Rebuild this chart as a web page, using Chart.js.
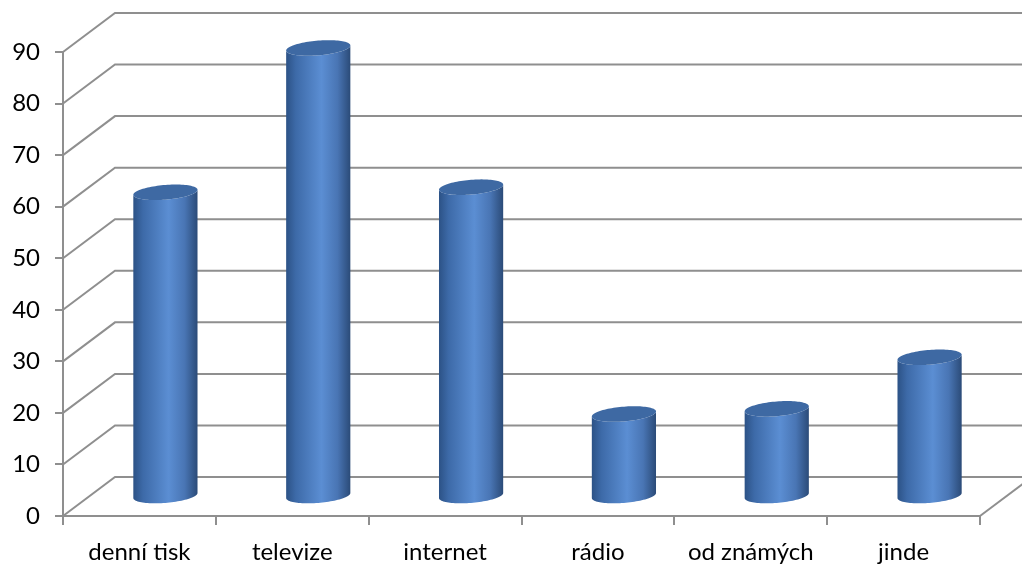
<!DOCTYPE html>
<html>
<head>
<meta charset="utf-8">
<script src="https://cdn.jsdelivr.net/npm/chart.js@4"></script>
<style>
  html, body { margin: 0; padding: 0; background: #fff; }
  #wrap { width: 1022px; height: 564px; position: relative; }
</style>
</head>
<body>
<div id="wrap"><canvas id="chart"></canvas></div>
<script>
const categories = ['denní tisk', 'televize', 'internet', 'rádio', 'od známých', 'jinde'];
const values = [59, 87, 60, 16, 17, 27];
const yTicks = [0, 10, 20, 30, 40, 50, 60, 70, 80, 90];

// oblique depth of the 3D box (front plane -> back wall)
const depth = { dx: 52, dy: -39 };
const gridColor = '#8f8f8f';

const floorAndWalls = {
    id: 'floorAndWalls',
    beforeDatasetsDraw(chart) {
        const ctx = chart.ctx;
        const area = chart.chartArea;
        const y = chart.scales.y;
        ctx.save();
        ctx.strokeStyle = gridColor;
        ctx.lineWidth = 2;
        yTicks.forEach(v => {
            const py = y.getPixelForValue(v);
            ctx.beginPath();
            ctx.moveTo(area.left, py);
            ctx.lineTo(area.left + depth.dx, py + depth.dy);
            ctx.lineTo(chart.width + 2, py + depth.dy);
            ctx.stroke();
        });
        // right edge of the floor
        ctx.beginPath();
        ctx.moveTo(area.right, area.bottom);
        ctx.lineTo(area.right + depth.dx, area.bottom + depth.dy);
        ctx.stroke();
        ctx.restore();
    }
};

function ellipsePoint(cx, cy, r, a, b, t) {
    return [cx + r * Math.cos(t) + a * Math.sin(t), cy + b * Math.sin(t)];
}

const cylinders = {
    id: 'cylinders',
    afterDatasetsDraw(chart) {
        const ctx = chart.ctx;
        const meta = chart.getDatasetMeta(0);
        const ox = depth.dx / 2, oy = depth.dy / 2;
        const a = depth.dx * 0.2, b = depth.dy * 0.2;
        meta.data.forEach(bar => {
            const cx = bar.x + ox;
            const topY = bar.y + oy;
            const botY = bar.base + oy;
            const half = bar.width / 2;
            const r = Math.sqrt(Math.max(half * half - a * a, 1));
            const tR = Math.atan2(a, r);
            const tL = tR + Math.PI;
            const steps = 48;

            // side of the cylinder
            ctx.save();
            ctx.beginPath();
            for (let i = 0; i <= steps; i++) {
                const t = tL + (Math.PI * i) / steps;
                const [px, py] = ellipsePoint(cx, topY, r, a, b, t);
                if (i === 0) ctx.moveTo(px, py); else ctx.lineTo(px, py);
            }
            for (let i = steps; i >= 0; i--) {
                const t = tL + (Math.PI * i) / steps;
                const [px, py] = ellipsePoint(cx, botY, r, a, b, t);
                ctx.lineTo(px, py);
            }
            ctx.closePath();
            const g = ctx.createLinearGradient(cx - half, 0, cx + half, 0);
            g.addColorStop(0, '#2c5286');
            g.addColorStop(0.15, '#3d6aa8');
            g.addColorStop(0.55, '#5b8ed3');
            g.addColorStop(0.8, '#4975b4');
            g.addColorStop(1, '#2b4b78');
            ctx.fillStyle = g;
            ctx.fill();

            // top cap
            ctx.beginPath();
            for (let i = 0; i <= steps * 2; i++) {
                const t = (Math.PI * i) / steps;
                const [px, py] = ellipsePoint(cx, topY, r, a, b, t);
                if (i === 0) ctx.moveTo(px, py); else ctx.lineTo(px, py);
            }
            ctx.closePath();
            ctx.fillStyle = '#3e69a3';
            ctx.fill();
            ctx.restore();
        });
    }
};

new Chart(document.getElementById('chart'), {
    type: 'bar',
    data: {
        labels: categories,
        datasets: [{
            data: values,
            backgroundColor: 'rgba(0,0,0,0)',
            borderWidth: 0,
            barPercentage: 0.7,
            categoryPercentage: 0.6
        }]
    },
    plugins: [floorAndWalls, cylinders],
    options: {
        responsive: true,
        maintainAspectRatio: false,
        animation: false,
        events: [],
        layout: { padding: { top: 52, right: 42, bottom: 0, left: 0 } },
        plugins: {
            legend: { display: false },
            tooltip: { enabled: false }
        },
        scales: {
            x: {
                afterFit: s => { s.height = 48; },
                grid: { drawOnChartArea: false, color: gridColor, lineWidth: 2, tickLength: 9 },
                border: { color: gridColor, width: 2 },
                ticks: {
                    color: '#000',
                    font: { family: 'Lato', size: 24 },
                    padding: 13,
                    maxRotation: 0,
                    autoSkip: false
                }
            },
            y: {
                min: 0,
                max: 90,
                afterFit: s => { s.width = 63; },
                afterBuildTicks: s => { s.ticks = yTicks.map(v => ({ value: v })); },
                grid: { drawOnChartArea: false, color: gridColor, lineWidth: 2, tickLength: 8 },
                border: { color: gridColor, width: 2 },
                ticks: {
                    color: '#000',
                    font: { family: 'Lato', size: 24 },
                    padding: 15
                }
            }
        }
    }
});
</script>
</body>
</html>
